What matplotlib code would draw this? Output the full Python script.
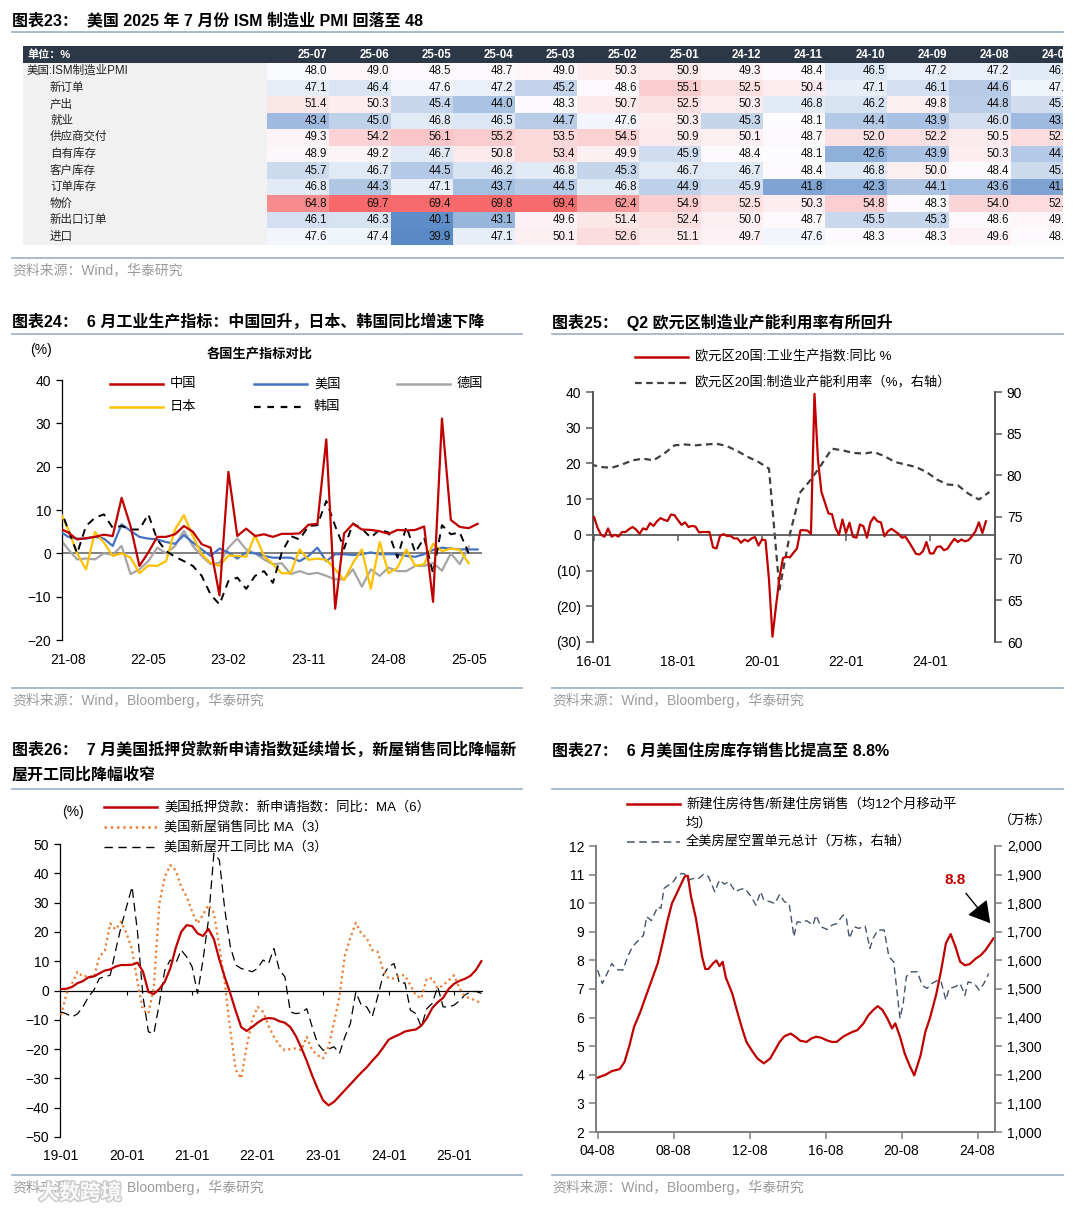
import numpy as np
import matplotlib
matplotlib.use('Agg')
import matplotlib.pyplot as plt
from matplotlib.lines import Line2D
from matplotlib.patches import Rectangle
from matplotlib.colors import LinearSegmentedColormap, TwoSlopeNorm
from matplotlib.ticker import FuncFormatter
import matplotlib.patheffects as pe

plt.rcParams['font.family'] = ['Liberation Sans', 'Noto Sans CJK SC']

# ---------------- data ----------------
# table: ISM manufacturing PMI
pmi_cols = ['25-07', '25-06', '25-05', '25-04', '25-03', '25-02', '25-01',
            '24-12', '24-11', '24-10', '24-09', '24-08', '24-07']
pmi_rows = ['美国:ISM制造业PMI', '新订单', '产出', '就业', '供应商交付', '自有库存',
            '客户库存', '订单库存', '物价', '新出口订单', '进口']
pmi_vals = [
    [48.0, 49.0, 48.5, 48.7, 49.0, 50.3, 50.9, 49.3, 48.4, 46.5, 47.2, 47.2, 46.8],
    [47.1, 46.4, 47.6, 47.2, 45.2, 48.6, 55.1, 52.5, 50.4, 47.1, 46.1, 44.6, 47.4],
    [51.4, 50.3, 45.4, 44.0, 48.3, 50.7, 52.5, 50.3, 46.8, 46.2, 49.8, 44.8, 45.9],
    [43.4, 45.0, 46.8, 46.5, 44.7, 47.6, 50.3, 45.3, 48.1, 44.4, 43.9, 46.0, 43.4],
    [49.3, 54.2, 56.1, 55.2, 53.5, 54.5, 50.9, 50.1, 48.7, 52.0, 52.2, 50.5, 52.6],
    [48.9, 49.2, 46.7, 50.8, 53.4, 49.9, 45.9, 48.4, 48.1, 42.6, 43.9, 50.3, 44.5],
    [45.7, 46.7, 44.5, 46.2, 46.8, 45.3, 46.7, 46.7, 48.4, 46.8, 50.0, 48.4, 45.7],
    [46.8, 44.3, 47.1, 43.7, 44.5, 46.8, 44.9, 45.9, 41.8, 42.3, 44.1, 43.6, 41.7],
    [64.8, 69.7, 69.4, 69.8, 69.4, 62.4, 54.9, 52.5, 50.3, 54.8, 48.3, 54.0, 52.9],
    [46.1, 46.3, 40.1, 43.1, 49.6, 51.4, 52.4, 50.0, 48.7, 45.5, 45.3, 48.6, 49.0],
    [47.6, 47.4, 39.9, 47.1, 50.1, 52.6, 51.1, 49.7, 47.6, 48.3, 48.3, 49.6, 48.3],
]

# chart 24: monthly 21-07 .. 25-06
ip_ticks = ['21-08', '22-05', '23-02', '23-11', '24-08', '25-05']
ip_china = [5.8, 4.8, 3.2, 3.5, 3.8, 4.3, 4.0, 12.8, 6.3, -2.9,
            0.2, 3.8, 3.8, 4.4, 6.3, 5.0, 2.1, 1.3, -9.7, 18.8,
            4.0, 5.7, 4.0, 4.4, 3.8, 4.5, 4.5, 4.6, 6.6, 6.8,
            26.3, -12.8, 4.6, 6.8, 5.5, 5.4, 5.1, 4.5, 5.4, 5.3,
            5.4, 6.2, -11.2, 31.1, 7.7, 6.1, 5.8, 6.8]
ip_us = [5.2, 3.8, 3.4, 3.4, 3.8, 3.4, 1.7, 6.7, 5.2, 3.8,
         3.4, 3.2, 2.6, 2.2, 4.2, 2.5, 0.9, -0.6, 1.1, 0.2,
         -1.2, 0.2, 0.0, -0.6, -1.0, -1.0, -1.0, -1.8, -0.6, 1.3,
         -1.8, -0.2, -0.2, -0.4, -0.2, 0.2, -0.2, -0.2, -0.2, -0.6,
         -0.8, -0.2, 0.8, 1.3, 1.1, 0.9, 0.9, 0.9]
ip_de = [3.6, 0.9, -1.4, -1.2, -1.4, 0.0, -0.3, 1.7, -4.8, -3.7,
         -1.8, 1.3, 0.0, 1.7, 5.2, 1.7, -0.6, -2.5, -2.2, 1.3,
         3.4, 0.9, 0.0, -1.4, -2.5, -2.3, -4.8, -4.1, -4.8, -4.5,
         -5.2, -6.0, -6.0, -3.7, -7.7, -3.7, -5.2, -3.3, -4.1, -4.1,
         -2.9, -2.9, -2.2, -4.0, 0.0, -2.5, 1.5, np.nan]
ip_jp = [10.0, 5.5, 0.0, -3.7, 4.9, 2.5, -0.6, 0.0, -1.0, -4.6,
         -2.8, -2.9, -1.8, 5.5, 8.8, 4.0, -0.2, -2.2, -2.9, -0.5,
         -0.6, -0.8, 4.2, -0.6, -2.5, -4.6, -4.6, 0.9, -1.5, -1.2,
         -1.5, -3.7, -6.2, -2.2, 0.9, -8.2, 2.6, -4.6, -3.3, 0.9,
         -2.9, -2.5, 2.2, 0.5, 1.1, 0.8, -2.3, np.nan]
ip_kr = [10.9, 5.5, 0.0, 6.3, 8.2, 9.0, 5.9, 6.3, 5.5, 5.5,
         9.0, 3.2, 0.5, -0.8, -1.8, -2.9, -5.2, -9.5, -11.8, -6.4,
         -5.6, -8.2, -5.2, -4.1, -6.8, 0.2, 4.0, 3.2, 6.3, 6.5,
         12.1, 6.3, 1.1, 6.9, 5.7, 3.6, 5.5, 4.8, -1.0, 6.2,
         0.2, 3.6, -4.6, 6.5, 4.4, 4.8, 0.0, np.nan]

# chart 25: euro area, monthly from 16-01; capacity utilisation quarterly (2015Q4 .. 2025Q2)
ez_ticks = ['16-01', '18-01', '20-01', '22-01', '24-01']
ez_ip = [5.0, 2.0, 0.0, -0.5, 1.8, -0.5, 0.0, -0.5, 0.8, 0.8,
         1.6, 2.2, 1.5, 0.3, 1.8, 1.5, 3.3, 2.5, 3.8, 4.7,
         4.2, 3.9, 5.7, 5.5, 4.1, 2.8, 3.5, 2.2, 2.5, 2.3,
         0.7, 0.8, 0.8, 0.8, -3.5, -3.8, -0.3, 0.2, -0.3, -0.3,
         -1.0, -1.0, -2.2, -1.3, -1.8, -1.0, -0.6, -3.0, -1.3, -1.5,
         -12.5, -28.5, -20.0, -12.0, -6.5, -6.1, -6.3, -5.0, -3.8, 1.3,
         1.3, 1.2, 0.3, 39.5, 21.0, 12.0, 9.0, 6.0, 5.8, 2.0,
         0.0, 4.3, 0.5, 3.4, -0.5, -0.8, 2.9, 2.4, -0.8, 3.5,
         5.0, 3.8, 3.5, -0.4, 1.0, 1.7, 1.0, 0.3, -0.8, -0.5,
         -2.0, -3.6, -5.3, -5.5, -4.6, -2.0, -5.2, -5.2, -3.4, -3.2,
         -4.3, -3.9, -2.4, -1.1, -2.0, -1.3, -1.8, -1.5, -0.4, 1.0,
         3.5, 0.5, 3.8]
ez_cu = [81.3,
         81.0, 80.9, 81.3, 81.8,
         82.0, 81.8, 82.6, 83.6,
         83.7, 83.6, 83.7, 83.8,
         83.5, 82.9, 82.2, 81.6,
         80.8, 66.3, 73.0, 78.0,
         79.5, 81.3, 83.2, 83.0,
         82.7, 82.6, 82.8, 82.3,
         81.6, 81.3, 81.0, 80.4,
         79.5, 78.9, 78.8, 77.8,
         77.1, 78.0]

# chart 26: monthly from 19-01
us_ticks = ['19-01', '20-01', '21-01', '22-01', '23-01', '24-01', '25-01']
mba_ma6 = [0.5, 0.6, 1.2, 2.5, 3.2, 4.5, 4.8, 5.8, 6.8, 7.2,
           8.2, 8.7, 8.7, 8.8, 9.5, 6.5, -0.5, -1.2, 0.5, 3.0,
           7.5, 14.5, 20.0, 22.3, 22.0, 19.5, 18.6, 21.0, 17.5, 10.5,
           4.5, -1.0, -7.0, -12.5, -13.8, -12.5, -11.0, -9.8, -9.4, -9.6,
           -10.5, -11.0, -12.5, -15.5, -19.5, -24.0, -29.0, -33.5, -37.5, -39.2,
           -38.0, -36.0, -34.0, -32.0, -30.0, -28.0, -26.2, -24.0, -22.0, -19.5,
           -16.8, -15.8, -15.0, -14.0, -13.6, -13.3, -12.0, -9.5, -6.0, -4.0,
           -2.5, 0.5, 2.3, 3.3, 4.0, 5.0, 7.0, 10.0]
nhs_ma3 = [-8.4, -1.0, 2.4, 6.4, 4.7, 5.0, 4.5, 11.5, 13.5, 22.9,
           20.8, 23.5, 19.5, 14.0, 3.0, -6.7, -7.9, 1.3, 29.7, 38.8,
           42.8, 41.0, 35.4, 32.0, 26.9, 22.9, 25.8, 29.2, 26.4, 15.0,
           2.4, -13.5, -27.1, -30.0, -19.2, -10.1, -5.6, -7.3, -12.0, -15.8,
           -18.7, -20.4, -20.0, -19.8, -20.4, -15.8, -20.4, -22.1, -23.2, -19.2,
           -11.0, -2.0, 12.0, 18.0, 23.1, 19.5, 17.8, 13.8, 13.2, 6.9,
           4.1, 4.1, 5.2, 5.2, 1.8, -1.6, -2.7, 4.1, 4.1, 0.7,
           1.8, 3.5, 5.2, 0.7, -2.2, -2.7, -3.5, -4.4]
hs_ma3 = [-7.3, -8.0, -9.0, -8.0, -5.6, -2.2, 0.1, 4.1, 4.7, 5.2,
          13.8, 21.8, 28.6, 35.4, 20.0, -2.0, -14.1, -14.7, -4.4, 6.9,
          10.4, 9.2, 13.8, 11.5, 8.1, -1.0, 10.4, 24.1, 46.8, 44.5,
          27.5, 15.0, 8.7, 7.5, 7.0, 6.4, 7.5, 10.4, 9.2, 14.3,
          6.9, 4.7, -7.3, -7.9, -7.6, -6.2, -12.4, -18.1, -20.4, -20.0,
          -19.2, -21.5, -15.8, -11.3, -0.5, -5.0, -5.6, -9.0, -2.2, 5.2,
          8.1, 9.2, 2.4, 2.6, -6.7, -7.9, -12.4, -6.2, -4.4, 1.3,
          -5.6, -5.6, -5.0, -3.5, -1.5, -0.5, -0.3, -1.0]

# chart 27: months counted from 04-08
hv_ticks = ['04-08', '08-08', '12-08', '16-08', '20-08', '24-08']
ratio_m = [0, 5, 9, 14, 17, 20, 23, 27, 30, 33, 38, 41, 44, 47, 51, 53, 55, 57, 59, 62,
           64, 66, 68, 70, 73, 75, 77, 79, 81, 85, 88, 91, 94, 98, 101, 105, 109, 112, 115, 118,
           122, 125, 128, 132, 135, 138, 141, 145, 148, 151, 155, 158, 161, 164, 168, 171, 174, 177, 180, 183,
           186, 188, 191, 194, 197, 200, 204, 207, 210, 214, 217, 220, 223, 226, 229, 232, 235, 239, 242, 245,
           248, 250]
ratio_v = [3.9, 4.0, 4.13, 4.2, 4.45, 5.0, 5.67, 6.2, 6.67, 7.13, 7.9, 8.6, 9.35, 10.0, 10.46, 10.7, 10.93, 10.96, 10.23, 9.5,
           8.83, 8.13, 7.7, 7.7, 7.9, 8.0, 7.8, 7.95, 7.4, 6.85, 6.25, 5.67, 5.15, 4.8, 4.57, 4.4, 4.57, 4.86, 5.15, 5.35,
           5.44, 5.33, 5.19, 5.15, 5.27, 5.33, 5.3, 5.2, 5.15, 5.15, 5.33, 5.42, 5.5, 5.56, 5.8, 6.08, 6.26, 6.4, 6.26, 5.97,
           5.62, 5.8, 5.33, 4.74, 4.33, 3.98, 4.68, 5.5, 6.0, 6.84, 7.66, 8.6, 8.92, 8.48, 7.95, 7.83, 7.87, 8.07, 8.18, 8.36,
           8.6, 8.77]
vac_m = [0, 3, 6, 9, 12, 16, 19, 22, 27, 29, 31, 34, 38, 40, 42, 45, 47, 50, 53, 55,
         57, 61, 64, 67, 70, 74, 77, 80, 83, 87, 90, 93, 97, 100, 103, 105, 109, 112, 115, 118,
         121, 124, 126, 129, 132, 136, 138, 141, 145, 148, 151, 155, 157, 159, 162, 165, 169, 172, 174, 177,
         181, 184, 187, 191, 193, 195, 198, 202, 205, 208, 211, 215, 217, 220, 222, 226, 229, 232, 234, 238,
         241, 244, 247]
vac_v = [1566, 1519, 1554, 1589, 1568, 1566, 1613, 1648, 1677, 1688, 1753, 1739, 1788, 1782, 1852, 1864, 1869, 1893, 1904, 1902,
         1881, 1887, 1887, 1902, 1893, 1840, 1881, 1867, 1875, 1840, 1848, 1852, 1823, 1793, 1840, 1811, 1805, 1799, 1831, 1805,
         1799, 1683, 1735, 1732, 1739, 1723, 1758, 1718, 1708, 1723, 1729, 1758, 1753, 1677, 1718, 1712, 1720, 1642, 1677, 1706,
         1706, 1613, 1595, 1397, 1449, 1543, 1560, 1560, 1513, 1502, 1519, 1531, 1525, 1461, 1502, 1508, 1519, 1478, 1525, 1519,
         1496, 1519, 1554]

# ---------------- layout helpers (pixel coords of a 1080x1210 canvas) ----------------
W, H = 1080, 1210
fig = plt.figure(figsize=(W / 100, H / 100), dpi=100)
fig.patch.set_facecolor('white')


def fx(x):
    return x / W


def fy(y):
    return 1 - y / H


def box(x0, y0, x1, y1):
    return [x0 / W, 1 - y1 / H, (x1 - x0) / W, (y1 - y0) / H]


def ftext(x, y, s, **kw):
    kw.setdefault('va', 'center')
    return fig.text(fx(x), fy(y), s, **kw)


def fline(x0, x1, y, **kw):
    fig.add_artist(Line2D([fx(x0), fx(x1)], [fy(y), fy(y)], transform=fig.transFigure, **kw))


RULE = '#a3b5c9'
SRC = '#9a9a9a'
TITLE_FS = 11.5
TICK_FS = 10


def panel_frame(x0, x1, y_title, y_rule, y_bottom, title_lines, src):
    for k, t in enumerate(title_lines):
        ftext(x0, y_title + k * 25, t, fontsize=TITLE_FS, fontweight='bold')
    fline(x0, x1, y_rule, color=RULE, lw=1.3)
    fline(x0, x1, y_bottom, color=RULE, lw=1.3)
    ftext(x0, y_bottom + 12, src, fontsize=10, color=SRC)


# ---------------- table (图表23) ----------------
ftext(12, 20, '图表23：  美国 2025 年 7 月份 ISM 制造业 PMI 回落至 48', fontsize=TITLE_FS, fontweight='bold')
fline(12, 1063, 32, color=RULE, lw=1.3)
fline(12, 1063, 258, color=RULE, lw=1.3)
ftext(12, 270, '资料来源：Wind，华泰研究', fontsize=10, color=SRC)

t_x0, t_x1, t_y0, t_y1 = 23, 1063, 46, 245
ax_t = fig.add_axes(box(t_x0, t_y0, t_x1, t_y1))
ax_t.set_xlim(t_x0, t_x1)
ax_t.set_ylim(t_y1, t_y0)
ax_t.axis('off')

vals = np.array(pmi_vals)
cmap = LinearSegmentedColormap.from_list('xl3', ['#5A8AC6', '#FCFCFF', '#F8696B'])
norm = TwoSlopeNorm(vmin=vals.min(), vcenter=np.percentile(vals, 50), vmax=vals.max())

hdr_h = 17
row_h = (t_y1 - t_y0 - hdr_h) / len(pmi_rows)
lab_x1 = 267
col_w = 62.0

ax_t.add_patch(Rectangle((t_x0, t_y0), t_x1 - t_x0, hdr_h, color='#2c3848', lw=0))
ax_t.text(t_x0 + 4, t_y0 + hdr_h / 2, '单位：%', color='white', fontsize=8, fontweight='bold',
          va='center', ha='left', clip_on=True)
for j, c in enumerate(pmi_cols):
    ax_t.text(lab_x1 + (j + 1) * col_w - 2, t_y0 + hdr_h / 2, c, color='white', fontsize=8.3,
              fontweight='bold', va='center', ha='right', clip_on=True)

for i, r in enumerate(pmi_rows):
    y = t_y0 + hdr_h + i * row_h
    ax_t.add_patch(Rectangle((t_x0, y), lab_x1 - t_x0, row_h, color='#f1f1f1', lw=0))
    ax_t.text(t_x0 + (4 if i == 0 else 27), y + row_h / 2, r, fontsize=8.3, va='center', ha='left',
              color='#222222', clip_on=True)
    for j in range(len(pmi_cols)):
        v = vals[i, j]
        ax_t.add_patch(Rectangle((lab_x1 + j * col_w, y), col_w, row_h, color=cmap(norm(v)), lw=0))
        ax_t.text(lab_x1 + (j + 1) * col_w - 2, y + row_h / 2, f'{v:.1f}', fontsize=8.3,
                  va='center', ha='right', color='#111111', clip_on=True)

# ---------------- 图表24 ----------------
panel_frame(12, 522, 322, 334, 688,
            ['图表24：  6 月工业生产指标：中国回升，日本、韩国同比增速下降'],
            '资料来源：Wind，Bloomberg，华泰研究')
ftext(30, 350, '(%)', fontsize=10)
ftext(260, 354, '各国生产指标对比', fontsize=9.5, fontweight='bold', ha='center')

ax1 = fig.add_axes(box(62, 380, 482, 640))
x1 = np.arange(len(ip_china))
ax1.axhline(0, color='#7f7f7f', lw=1.4, zorder=1)
ax1.plot(x1, ip_de, color='#a5a5a5', lw=1.6, zorder=2)
ax1.plot(x1, ip_us, color='#4472c4', lw=1.6, zorder=3)
ax1.plot(x1, ip_jp, color='#ffc000', lw=1.6, zorder=4)
ax1.plot(x1, ip_kr, color='black', lw=1.4, ls=(0, (4, 3)), zorder=5)
ax1.plot(x1, ip_china, color='#c00000', lw=1.6, zorder=6)
ax1.set_xlim(0.3, 47.5)
ax1.set_ylim(-20, 40)
ax1.set_yticks(np.arange(-20, 41, 10))
ax1.set_xticks(np.arange(1, 47, 9))
ax1.set_xticklabels(ip_ticks)
for s in ['top', 'right', 'bottom']:
    ax1.spines[s].set_visible(False)
ax1.spines['left'].set_linewidth(0.9)
ax1.tick_params(axis='y', length=4, width=0.9, labelsize=TICK_FS, pad=4)
ax1.tick_params(axis='x', length=0, labelsize=TICK_FS, pad=9)
ax1.patch.set_alpha(0)

leg24 = [(110, 384, '中国', dict(color='#c00000', lw=1.8)),
         (254, 384, '美国', dict(color='#4472c4', lw=1.8)),
         (397, 384, '德国', dict(color='#a5a5a5', lw=1.8)),
         (110, 407, '日本', dict(color='#ffc000', lw=1.8)),
         (254, 407, '韩国', dict(color='black', lw=1.6, ls=(0, (3, 3))))]
for lx, ly, name, st in leg24:
    fline(lx, lx + 53, ly, **st)
    ftext(lx + 60, ly, name, fontsize=9.5)

# ---------------- 图表25 ----------------
panel_frame(552, 1063, 322, 334, 688,
            ['图表25：  Q2 欧元区制造业产能利用率有所回升'],
            '资料来源：Wind，Bloomberg，华泰研究')
fline(635, 688, 357, color='#c00000', lw=1.8)
ftext(695, 357, '欧元区20国:工业生产指数:同比 %', fontsize=9.5)
fline(635, 688, 383, color='#404040', lw=1.6, ls=(0, (3, 2)))
ftext(695, 383, '欧元区20国:制造业产能利用率（%，右轴）', fontsize=9.5)

ax2 = fig.add_axes(box(593, 392, 995, 642))
x2 = np.arange(len(ez_ip))
xq = np.arange(len(ez_cu)) * 3 - 1
ax2r = ax2.twinx()
ax2.axhline(0, color='#595959', lw=1.3, zorder=1)
ax2.plot(x2, ez_ip, color='#c00000', lw=1.6, zorder=3)
ax2r.plot(xq, ez_cu, color='#404040', lw=1.6, ls=(0, (3, 2)))
ax2.set_zorder(ax2r.get_zorder() + 1)
ax2.patch.set_alpha(0)
ax2.set_xlim(-0.3, 114.6)
ax2.set_ylim(-30, 40)
ax2r.set_ylim(60, 90)
ax2.set_yticks(np.arange(-30, 41, 10))
ax2r.set_yticks(np.arange(60, 91, 5))
ax2.yaxis.set_major_formatter(FuncFormatter(lambda v, p: f'({abs(int(v))})' if v < 0 else f'{int(v)}'))
xt2 = np.arange(0, 97, 24)
ax2.set_xticks(xt2)
ax2.set_xticklabels(ez_ticks)
ax2.plot(xt2, np.zeros(len(xt2)), ls='none', marker=3, ms=4, mew=1.1, color='#595959', zorder=2)
for a in (ax2, ax2r):
    for s in ['top', 'bottom']:
        a.spines[s].set_visible(False)
    for s in ['left', 'right']:
        a.spines[s].set_color('#595959')
        a.spines[s].set_linewidth(1.3)
    a.tick_params(axis='y', length=5, width=1.1, color='#595959', labelsize=TICK_FS)
ax2.tick_params(axis='x', length=0, labelsize=TICK_FS, pad=9)

# ---------------- 图表26 ----------------
panel_frame(12, 522, 750, 789, 1175,
            ['图表26：  7 月美国抵押贷款新申请指数延续增长，新屋销售同比降幅新', '屋开工同比降幅收窄'],
            '资料来源：Wind，Bloomberg，华泰研究')
ftext(62, 812, '(%)', fontsize=10)
fline(104, 157, 807, color='#c00000', lw=1.8)
ftext(164, 807, '美国抵押贷款：新申请指数：同比：MA（6）', fontsize=9.5)
fline(104, 157, 827, color='#ed7d31', lw=1.8, ls=(0, (1, 1.5)))
ftext(164, 827, '美国新屋销售同比 MA（3）', fontsize=9.5)
fline(104, 157, 847, color='black', lw=1.0, ls=(0, (6, 4)))
ftext(164, 847, '美国新屋开工同比 MA（3）', fontsize=9.5)

ax3 = fig.add_axes(box(60, 844, 483, 1137))
x3 = np.arange(len(mba_ma6))
ax3.axhline(0, color='black', lw=0.9, zorder=1)
ax3.plot(x3, hs_ma3, color='black', lw=0.9, ls=(0, (7, 4)), zorder=2)
ax3.plot(x3, nhs_ma3, color='#ed7d31', lw=1.6, ls=(0, (1, 1.5)), zorder=3)
ax3.plot(x3, mba_ma6, color='#c00000', lw=1.6, zorder=4)
ax3.set_xlim(-0.2, 77.3)
ax3.set_ylim(-50, 50)
ax3.set_yticks(np.arange(-50, 51, 10))
xt3 = np.arange(0, 73, 12)
ax3.set_xticks(xt3)
ax3.set_xticklabels(us_ticks)
ax3.plot(xt3[1:], np.zeros(len(xt3) - 1), ls='none', marker=3, ms=3, mew=0.8, color='black', zorder=1)
for s in ['top', 'right', 'bottom']:
    ax3.spines[s].set_visible(False)
ax3.spines['left'].set_linewidth(0.9)
ax3.tick_params(axis='y', length=4, width=0.9, labelsize=TICK_FS, pad=4)
ax3.tick_params(axis='x', length=0, labelsize=TICK_FS, pad=9)
ax3.patch.set_alpha(0)

# ---------------- 图表27 ----------------
panel_frame(552, 1063, 750, 789, 1175,
            ['图表27：  6 月美国住房库存销售比提高至 8.8%'],
            '资料来源：Wind，Bloomberg，华泰研究')
fline(627, 680, 804, color='#c00000', lw=1.8)
ftext(686, 804, '新建住房待售/新建住房销售（均12个月移动平', fontsize=9.5)
ftext(686, 823, '均）', fontsize=9.5)
fline(627, 680, 842, color='#44546a', lw=1.1, ls=(0, (5, 3)))
ftext(686, 842, '全美房屋空置单元总计（万栋，右轴）', fontsize=9.5)
ftext(1025, 820, '（万栋）', fontsize=9.5, ha='center')

ax4 = fig.add_axes(box(596, 846, 995, 1132))
ax4r = ax4.twinx()
ax4r.plot(vac_m, vac_v, color='#44546a', lw=1.0, ls=(0, (5, 3)))
ax4.plot(ratio_m, ratio_v, color='#c00000', lw=1.6)
ax4.set_zorder(ax4r.get_zorder() + 1)
ax4.patch.set_alpha(0)
ax4.set_xlim(-1, 251)
ax4.set_ylim(2, 12)
ax4r.set_ylim(1000, 2000)
ax4.set_yticks(np.arange(2, 13, 1))
ax4r.set_yticks(np.arange(1000, 2001, 100))
ax4r.yaxis.set_major_formatter(FuncFormatter(lambda v, p: f'{int(v):,}'))
ax4.set_xticks(np.arange(0, 241, 48))
ax4.set_xticklabels(hv_ticks)
for a in (ax4, ax4r):
    a.spines['top'].set_visible(False)
    for s in ['left', 'right', 'bottom']:
        a.spines[s].set_color('#7f7f7f')
        a.spines[s].set_linewidth(1.4)
    a.tick_params(axis='both', length=5, width=1.1, color='#7f7f7f', labelsize=TICK_FS)
ax4.annotate('8.8', xy=(ratio_m[-1] - 2, 9.3), xytext=(226, 10.8),
             color='#c00000', fontsize=11, fontweight='bold', ha='center', va='center',
             arrowprops=dict(arrowstyle='-|>,head_length=0.6,head_width=0.35', color='black',
                             lw=1.0, mutation_scale=22, shrinkA=3, shrinkB=0))

# watermark
ftext(80, 1193, '大数跨境', fontsize=15, fontweight='bold', color='white', ha='center', alpha=0.9,
      path_effects=[pe.withStroke(linewidth=2.2, foreground='#c8c8c8')])

fig.savefig('out.png', dpi=100)
